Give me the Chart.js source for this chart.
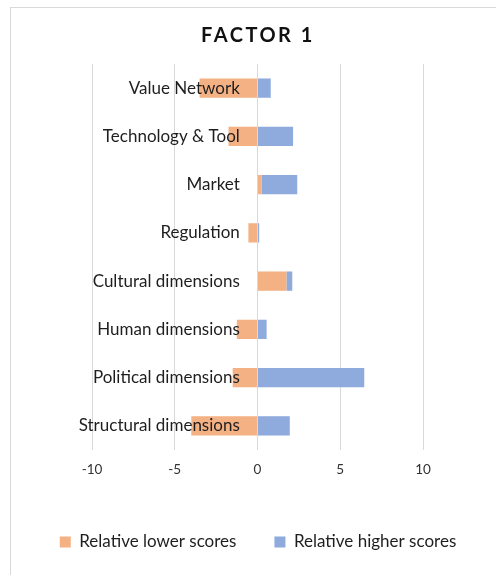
<!DOCTYPE html>
<html><head><meta charset="utf-8">
<script src="https://cdn.jsdelivr.net/npm/chart.js@4"></script>
<style>
html,body{margin:0;padding:0;background:#fff;}
#wrap{position:relative;width:496px;height:575px;overflow:hidden;background:#fff;}
#frame{position:absolute;left:10px;top:7px;width:700px;height:800px;border:1px solid #d9d9d9;box-sizing:border-box;}
canvas{position:absolute;left:0;top:0;}
</style></head><body>
<div id="wrap"><div id="frame"></div><canvas id="c" width="496" height="575"></canvas></div>
<script>
const categories = ["Value Network", "Technology & Tool", "Market", "Regulation", "Cultural dimensions", "Human dimensions", "Political dimensions", "Structural dimensions"];
const lowerScores = [-3.5, -1.75, 0.25, -0.55, 1.75, -1.25, -1.5, -4.0];
const higherScores = [0.8, 2.15, 2.15, 0.1, 0.35, 0.55, 6.45, 1.95];
const xTicks = [-10, -5, 0, 5, 10];
const seriesNames = ["Relative lower scores", "Relative higher scores"];

const FONT = "Lato, 'Open Sans', sans-serif";

const titleSpacing = {
  id: 'titleSpacing',
  beforeDraw(chart) {
    const tb = chart.titleBlock;
    if (tb && !tb._spaced) {
      const orig = tb.draw.bind(tb);
      tb.draw = function () {
        const ctx = this.ctx;
        ctx.save();
        ctx.letterSpacing = '2.5px';
        orig();
        ctx.restore();
      };
      tb._spaced = true;
    }
  }
};

const spacer = (w) => ({
  type: 'category', display: true,
  grid: { display: false, drawTicks: false },
  border: { display: false },
  ticks: { display: false },
  afterFit: s => { s.width = w; }
});

new Chart(document.getElementById('c'), {
  type: 'bar',
  data: {
    labels: categories,
    datasets: [
      { label: seriesNames[0], data: lowerScores, backgroundColor: '#F4B183', borderWidth: 0 },
      { label: seriesNames[1], data: higherScores, backgroundColor: '#8FAADC', borderWidth: 0 }
    ]
  },
  options: {
    indexAxis: 'y',
    responsive: false,
    animation: false,
    devicePixelRatio: 1,
    datasets: { bar: { barPercentage: 0.4, categoryPercentage: 1.0 } },
    layout: { padding: { left: 20, right: 0, top: 10, bottom: 14.5 } },
    scales: {
      x: {
        type: 'linear', min: -10, max: 10, stacked: true,
        afterBuildTicks: s => { s.ticks = xTicks.map(v => ({ value: v })); },
        afterFit: s => { s.height = 45.5; },
        grid: { color: '#d9d9d9', lineWidth: 1, drawTicks: false },
        border: { display: false },
        ticks: { font: { family: FONT, size: 13.5 }, color: '#333', padding: 12 }
      },
      y: {
        type: 'category', stacked: true, position: { x: -1.07 },
        grid: { display: false, drawTicks: false },
        border: { display: false },
        ticks: { font: { family: FONT, size: 17 }, color: '#1e1e1e', z: 1 }
      },
      yL: Object.assign(spacer(72), { position: 'left' }),
      yR: Object.assign(spacer(73), { position: 'right' })
    },
    plugins: {
      title: {
        display: true, text: 'FACTOR 1', color: '#111',
        font: { family: FONT, size: 20, weight: 'bold' },
        padding: { top: 13.5, bottom: 16.5 }
      },
      legend: {
        position: 'bottom',
        labels: { font: { family: FONT, size: 17 }, color: '#1e1e1e', boxWidth: 11, boxHeight: 11, padding: 38 }
      },
      tooltip: { enabled: false }
    }
  },
  plugins: [titleSpacing]
});
</script>
</body></html>
